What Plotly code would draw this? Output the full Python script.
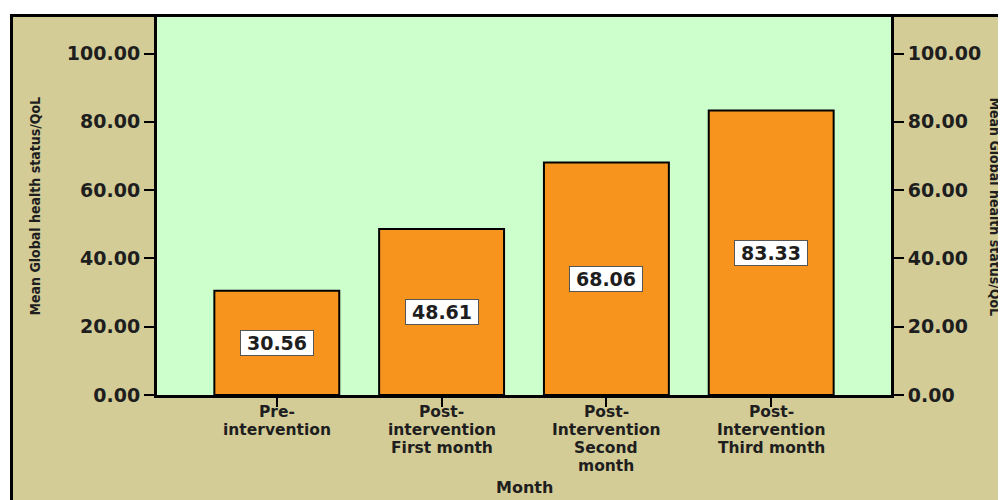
import plotly.graph_objects as go

# ---- data ----
categories = ["Pre-<br>intervention",
              "Post-<br>intervention<br>First month",
              "Post-<br>Intervention<br>Second<br>month",
              "Post-<br>Intervention<br>Third month"]
values = [30.56, 48.61, 68.06, 83.33]
y_ticks = [0, 20, 40, 60, 80, 100]
y_title = "Mean Global health status/QoL"
x_title = "Month"

# ---- styles ----
TAN = "#D3CC97"
GREEN = "#CCFFCC"
ORANGE = "#F7941E"
NUM_FONT = dict(family="DejaVu Sans, Verdana, sans-serif", size=19, color="#1e1e1e", weight="bold")
LBL_FONT = dict(family="DejaVu Sans, Arial, sans-serif", size=15.5, color="#1e1e1e", weight="bold")
XT_FONT = dict(family="DejaVu Sans, Arial, sans-serif", size=16, color="#1e1e1e", weight="bold")
TITLE_FONT = dict(family="Liberation Sans Narrow, DejaVu Sans Condensed, Liberation Sans, sans-serif",
                  size=14, color="#1e1e1e", weight="bold")

# page offset (default body margin of the html page)
OFF = 8
SW, SH = 1006, 500                 # screen size
W, H = SW - OFF, SH - OFF          # figure size
PL, PR, PT, PB = 157, 891, 14, 395  # plot area in screen pixels
L, T = PL - OFF, PT - OFF
R, B = W - (PR - OFF), H - (PB - OFF)
pw, ph = PR - PL, PB - PT


def px_x(p):
    return (p - PL) / pw


def px_y(p):
    return (PB - p) / ph


fig = go.Figure()
fig.add_trace(go.Bar(
    x=categories, y=values,
    marker=dict(color=ORANGE, line=dict(color="black", width=2)),
    hoverinfo="skip", showlegend=False,
))
# invisible trace so the right-hand axis is drawn
fig.add_trace(go.Scatter(x=[categories[0]], y=[0], yaxis="y2", mode="markers",
                         marker=dict(opacity=0), hoverinfo="skip", showlegend=False))

shapes = [
    # tan frame background
    dict(type="rect", xref="paper", yref="paper", x0=px_x(11), x1=px_x(SW + 5),
         y0=px_y(SH + 5), y1=px_y(12), fillcolor=TAN, line=dict(width=0), layer="below"),
    # green plot background
    dict(type="rect", xref="paper", yref="paper", x0=0, x1=1, y0=0, y1=1,
         fillcolor=GREEN, line=dict(width=0), layer="below"),
    # outer black borders (top and left)
    dict(type="line", xref="paper", yref="paper", x0=px_x(10), x1=px_x(SW + 5),
         y0=px_y(12.5), y1=px_y(12.5), line=dict(color="black", width=3)),
    dict(type="line", xref="paper", yref="paper", x0=px_x(11.5), x1=px_x(11.5),
         y0=px_y(11), y1=px_y(SH + 5), line=dict(color="black", width=3)),
]

annotations = []
# value labels
for c, v in zip(categories, values):
    annotations.append(dict(
        x=c, y=v / 2, xref="x", yref="y", text=f"{v:.2f}", showarrow=False,
        font=NUM_FONT, bgcolor="white", bordercolor="#555555", borderwidth=1,
        borderpad=1, width=70, height=22, yanchor="middle",
    ))
# category labels, one annotation per line for tight spacing
for c in categories:
    for i, line in enumerate(c.split("<br>")):
        annotations.append(dict(
            x=c, y=0, xref="x", yref="paper", text=line, showarrow=False,
            font=LBL_FONT, yanchor="middle", yshift=-(17 + 18 * i),
        ))
# x title
annotations.append(dict(x=0.5, y=px_y(488), xref="paper", yref="paper", text=x_title,
                        showarrow=False, font=XT_FONT, yanchor="middle"))
# y titles
annotations.append(dict(x=px_x(35), y=px_y(204), xref="paper", yref="paper", text=y_title,
                        showarrow=False, font=TITLE_FONT, textangle=-90,
                        xanchor="center", yanchor="middle"))
annotations.append(dict(x=px_x(995), y=px_y(205), xref="paper", yref="paper", text=y_title,
                        showarrow=False, font=TITLE_FONT, textangle=90,
                        xanchor="center", yanchor="middle"))

axis_common = dict(showgrid=False, zeroline=False, showline=True, linecolor="black", linewidth=3)

fig.update_layout(
    width=W, height=H,
    margin=dict(l=L, r=R, t=T, b=B, pad=0),
    paper_bgcolor="white", plot_bgcolor="rgba(0,0,0,0)",
    bargap=0.242,
    shapes=shapes, annotations=annotations,
    xaxis=dict(**axis_common, type="category", range=[-0.727, 3.727], mirror=True,
               ticks="outside", ticklen=9, tickwidth=1.5, tickcolor="black",
               showticklabels=False, fixedrange=True),
    yaxis=dict(**axis_common, range=[0, 110.7], tickvals=y_ticks, tickformat=".2f",
               ticks="outside", ticklen=10, tickwidth=1.5, tickcolor="black",
               tickfont=NUM_FONT, mirror=False),
    yaxis2=dict(**axis_common, range=[0, 110.7], tickvals=y_ticks, tickformat=".2f",
                overlaying="y", side="right", ticks="outside", ticklen=10, tickwidth=1.5,
                tickcolor="black", tickfont=NUM_FONT),
)

fig.write_html("out.html")
